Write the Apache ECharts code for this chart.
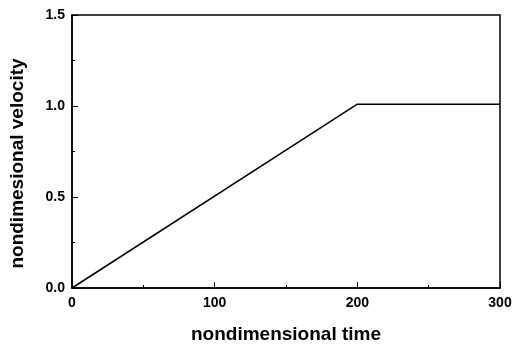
<!DOCTYPE html>
<html>
<head>
<meta charset="utf-8">
<style>
  html, body { margin: 0; padding: 0; background: #fff; }
  #chart { width: 515px; height: 349px; }
</style>
<script src="https://cdn.jsdelivr.net/npm/echarts@6/dist/echarts.min.js"></script>
</head>
<body>
<div id="chart"></div>
<script>
    // ramp up to t=200, then flat
    var timeVals = [0, 200, 300];
    var velocityVals = [0, 1.01, 1.01];

    var points = timeVals.map(function (t, i) { return [t, velocityVals[i]]; });

    var fontFam = '"Liberation Sans", Arial, sans-serif';

    var option = {
        animation: false,
        grid: {
            left: 71,
            right: 15,
            top: 15,
            bottom: 58,
            show: true,
            borderColor: '#000',
            borderWidth: 1.5
        },
        xAxis: {
            type: 'value',
            min: 0,
            max: 300,
            interval: 100,
            name: 'nondimensional time',
            nameLocation: 'middle',
            nameGap: 37,
            nameTextStyle: { color: '#000', fontSize: 19, fontFamily: fontFam, fontWeight: 'bold' },
            axisLine: { show: true, lineStyle: { color: '#000', width: 1.5 } },
            axisTick: { inside: true, length: 6, lineStyle: { color: '#000' } },
            minorTick: { show: true, splitNumber: 2, length: 3, lineStyle: { color: '#000' } },
            axisLabel: { color: '#000', fontSize: 14, fontFamily: fontFam, fontWeight: 'bold', margin: 8 },
            splitLine: { show: false }
        },
        yAxis: {
            type: 'value',
            min: 0,
            max: 1.5,
            interval: 0.5,
            name: 'nondimesional velocity',
            nameLocation: 'middle',
            nameGap: 45,
            nameTextStyle: {
                color: '#000', fontSize: 19, fontFamily: fontFam, fontWeight: 'bold',
                padding: [0, 24, 0, 0]
            },
            axisLine: { show: true, lineStyle: { color: '#000', width: 1.5 } },
            axisTick: { inside: true, length: 6, lineStyle: { color: '#000' } },
            minorTick: { show: true, splitNumber: 2, length: 3, lineStyle: { color: '#000' } },
            axisLabel: {
                color: '#000', fontSize: 14, fontFamily: fontFam, fontWeight: 'bold', margin: 7,
                formatter: function (v) { return v.toFixed(1); }
            },
            splitLine: { show: false }
        },
        series: [{
            type: 'line',
            data: points,
            symbol: 'none',
            lineStyle: { color: '#000', width: 1.5 }
        }]
    };

    var myChart = echarts.init(document.getElementById('chart'));
    myChart.setOption(option);
</script>
</body>
</html>
